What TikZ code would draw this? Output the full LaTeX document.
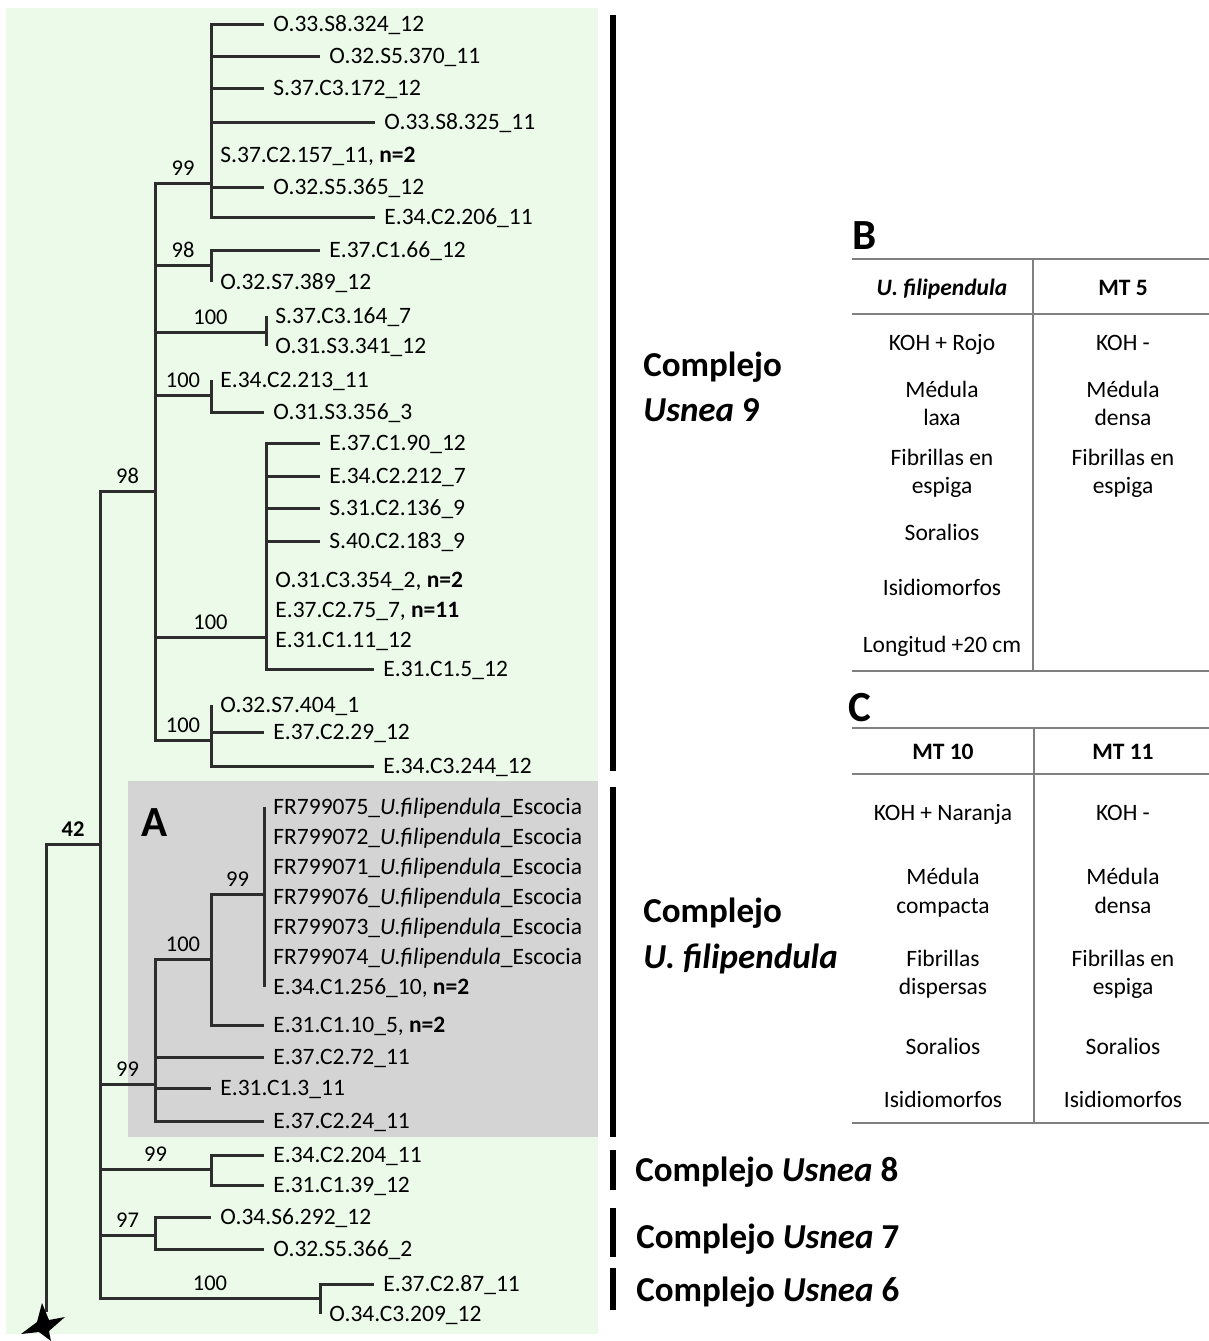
\documentclass[tikz,border=0pt]{standalone}
\usepackage{fontspec}
\setmainfont{Carlito}
\usepackage{tikz}
\usetikzlibrary{positioning}
\definecolor{mintbg}{RGB}{236,250,234}
\definecolor{boxgray}{RGB}{212,212,212}
\definecolor{branchgray}{RGB}{45,45,45}
\definecolor{rulegray}{RGB}{128,128,128}

\begin{document}
\begin{tikzpicture}[x=0.5pt,y=0.5pt,yscale=-1,xscale=1,
  branch/.style={draw=branchgray,line width=1.5pt},
  leaf/.style={anchor=west,inner xsep=4.5pt,inner ysep=0pt,font=\fontsize{11.75}{14}\selectfont,text height=7.6pt,text depth=0pt},
  boot/.style={above,inner xsep=1pt,inner ysep=3pt,font=\fontsize{11.25}{13}\selectfont},
  clade/.style={anchor=west,inner sep=0pt,font=\fontsize{17.5}{21}\selectfont\bfseries,text height=11.3pt,text depth=0pt},
  cladebar/.style={draw=black,line width=3pt},
  panel/.style={inner sep=0pt,font=\fontsize{21.5}{25}\selectfont\bfseries,text height=13.9pt,text depth=0pt},
  cell/.style={inner sep=0pt,font=\fontsize{11.75}{14}\selectfont,text height=7.6pt,text depth=0pt},
  tablerule/.style={draw=rulegray,line width=0.9pt}]
\useasboundingbox (0,0) rectangle (1209,1341);

%Shape: Rectangle [background]
\fill [mintbg] (6,8) rectangle (598,1334);
%Shape: Rectangle [A]
\fill [boxgray] (128,781) rectangle (598,1137);

% Internal nodes
\coordinate (root) at (46,1312);
\coordinate (n42) at (100,844);
\coordinate (n98) at (155,491);
\coordinate (n99a) at (211,183);
\coordinate (n98a) at (211,265);
\coordinate (n100a) at (266,332);
\coordinate (n100b) at (211,395);
\coordinate (n100c) at (266,637);
\coordinate (n100d) at (211,740);
\coordinate (n99f) at (155,1084);
\coordinate (n100f) at (211,959);
\coordinate (n99g) at (264,894);
\coordinate (n99e) at (211,1169);
\coordinate (n97) at (155,1235);
\coordinate (n100h) at (320,1298);

% Text Node
\node [leaf] (t01) at (264,24) {O.33.S8.324\_12};
\node [leaf] (t02) at (320,56) {O.32.S5.370\_11};
\node [leaf] (t03) at (264,88) {S.37.C3.172\_12};
\node [leaf] (t04) at (375,122) {O.33.S8.325\_11};
\node [leaf] (t05) at (211,155) {S.37.C2.157\_11, \textbf{n=2}};
\node [leaf] (t06) at (264,187) {O.32.S5.365\_12};
\node [leaf] (t07) at (375,217) {E.34.C2.206\_11};
\node [leaf] (t08) at (320,250) {E.37.C1.66\_12};
\node [leaf] (t09) at (211,282) {O.32.S7.389\_12};
\node [leaf] (t10) at (266,316) {S.37.C3.164\_7};
\node [leaf] (t11) at (266,346) {O.31.S3.341\_12};
\node [leaf] (t12) at (211,380) {E.34.C2.213\_11};
\node [leaf] (t13) at (264,412) {O.31.S3.356\_3};
\node [leaf] (t14) at (320,443) {E.37.C1.90\_12};
\node [leaf] (t15) at (320,476) {E.34.C2.212\_7};
\node [leaf] (t16) at (320,508) {S.31.C2.136\_9};
\node [leaf] (t17) at (320,541) {S.40.C2.183\_9};
\node [leaf] (t18) at (266,580) {O.31.C3.354\_2, \textbf{n=2}};
\node [leaf] (t19) at (266,610) {E.37.C2.75\_7, \textbf{n=11}};
\node [leaf] (t20) at (266,640) {E.31.C1.11\_12};
\node [leaf] (t21) at (374,669) {E.31.C1.5\_12};
\node [leaf] (t22) at (211,705) {O.32.S7.404\_1};
\node [leaf] (t23) at (264,732) {E.37.C2.29\_12};
\node [leaf] (t24) at (374,766) {E.34.C3.244\_12};
\node [leaf] (t25) at (264,807) {FR799075\_\textit{U.filipendula}\_Escocia};
\node [leaf] (t26) at (264,837) {FR799072\_\textit{U.filipendula}\_Escocia};
\node [leaf] (t27) at (264,867) {FR799071\_\textit{U.filipendula}\_Escocia};
\node [leaf] (t28) at (264,897) {FR799076\_\textit{U.filipendula}\_Escocia};
\node [leaf] (t29) at (264,927) {FR799073\_\textit{U.filipendula}\_Escocia};
\node [leaf] (t30) at (264,957) {FR799074\_\textit{U.filipendula}\_Escocia};
\node [leaf] (t31) at (264,987) {E.34.C1.256\_10, \textbf{n=2}};
\node [leaf] (t32) at (264,1025) {E.31.C1.10\_5, \textbf{n=2}};
\node [leaf] (t33) at (264,1057) {E.37.C2.72\_11};
\node [leaf] (t34) at (211,1088) {E.31.C1.3\_11};
\node [leaf] (t35) at (264,1121) {E.37.C2.24\_11};
\node [leaf] (t36) at (264,1155) {E.34.C2.204\_11};
\node [leaf] (t37) at (264,1185) {E.31.C1.39\_12};
\node [leaf] (t38) at (211,1217) {O.34.S6.292\_12};
\node [leaf] (t39) at (264,1249) {O.32.S5.366\_2};
\node [leaf] (t40) at (374,1284) {E.37.C2.87\_11};
\node [leaf] (t41) at (320,1314) {O.34.C3.209\_12};

% Text Node
\node [panel] (labA) at (155,823) {A};

% Branches
\draw [branch] (root) |- node [boot,pos=0.75] (b42) {\textbf{42}} (n42);
\draw [branch] (n42) |- node [boot,pos=0.75] (b98) {98} (n98);
\draw [branch] (n42) |- node [boot,pos=0.75] (b99f) {99} (n99f);
\draw [branch] (n42) |- node [boot,pos=0.75] (b99e) {99} (n99e);
\draw [branch] (n42) |- node [boot,pos=0.75] (b97) {97} (n97);
\draw [branch] (n42) |- node [boot,pos=0.75] (b100h) {100} (n100h);
\draw [branch] (n98) |- node [boot,pos=0.75] (b99a) {99} (n99a);
\draw [branch] (n98) |- node [boot,pos=0.75] (b98a) {98} (n98a);
\draw [branch] (n98) |- node [boot,pos=0.75] (b100a) {100} (n100a);
\draw [branch] (n98) |- node [boot,pos=0.75] (b100b) {100} (n100b);
\draw [branch] (n98) |- node [boot,pos=0.75] (b100c) {100} (n100c);
\draw [branch] (n98) |- node [boot,pos=0.75] (b100d) {100} (n100d);
\draw [branch] (n99f) |- node [boot,pos=0.75] (b100f) {100} (n100f);
\draw [branch] (n100f) |- node [boot,pos=0.75] (b99g) {99} (n99g);

\draw [branch] (n99a) |- (t01.west);
\draw [branch] (n99a) |- (t02.west);
\draw [branch] (n99a) |- (t03.west);
\draw [branch] (n99a) |- (t04.west);
\draw [branch] (n99a) |- (t05.west);
\draw [branch] (n99a) |- (t06.west);
\draw [branch] (n99a) |- (t07.west);
\draw [branch] (n98a) |- (t08.west);
\draw [branch] (n98a) |- (t09.west);
\draw [branch] (n100a) |- (t10.west);
\draw [branch] (n100a) |- (t11.west);
\draw [branch] (n100b) |- (t12.west);
\draw [branch] (n100b) |- (t13.west);
\draw [branch] (n100c) |- (t14.west);
\draw [branch] (n100c) |- (t15.west);
\draw [branch] (n100c) |- (t16.west);
\draw [branch] (n100c) |- (t17.west);
\draw [branch] (n100c) |- (t18.west);
\draw [branch] (n100c) |- (t19.west);
\draw [branch] (n100c) |- (t20.west);
\draw [branch] (n100c) |- (t21.west);
\draw [branch] (n100d) |- (t22.west);
\draw [branch] (n100d) |- (t23.west);
\draw [branch] (n100d) |- (t24.west);
\draw [branch] (n99g) |- (t25.west);
\draw [branch] (n99g) |- (t26.west);
\draw [branch] (n99g) |- (t27.west);
\draw [branch] (n99g) |- (t28.west);
\draw [branch] (n99g) |- (t29.west);
\draw [branch] (n99g) |- (t30.west);
\draw [branch] (n99g) |- (t31.west);
\draw [branch] (n100f) |- (t32.west);
\draw [branch] (n99f) |- (t33.west);
\draw [branch] (n99f) |- (t34.west);
\draw [branch] (n99f) |- (t35.west);
\draw [branch] (n99e) |- (t36.west);
\draw [branch] (n99e) |- (t37.west);
\draw [branch] (n97) |- (t38.west);
\draw [branch] (n97) |- (t39.west);
\draw [branch] (n100h) |- (t40.west);
\draw [branch] (n100h) |- (t41.west);

%Shape: Star
\fill [black] (42,1303) -- (49,1320) -- (65,1317) -- (49,1331) -- (51,1341) -- (39,1332) -- (21,1334) -- (37,1322) -- cycle;

%Shape: Line [clade bars]
\draw [cladebar] (613,15) -- (613,771);
\draw [cladebar] (613,787) -- (613,1137);
\draw [cladebar] (613,1150) -- (613,1190);
\draw [cladebar] (613,1208) -- (613,1257);
\draw [cladebar] (613,1268) -- (613,1310);

% Text Node
\node [clade] (cu9a) at (643,365) {Complejo};
\node [clade] (cu9b) at (643,410) {\textit{Usnea} 9};
\node [clade] (cufa) at (643,911) {Complejo};
\node [clade] (cufb) at (643,957) {\textit{U. filipendula}};
\node [clade] (cu8) at (635,1170) {Complejo \textit{Usnea} 8};
\node [clade] (cu7) at (636,1237) {Complejo \textit{Usnea} 7};
\node [clade] (cu6) at (636,1290) {Complejo \textit{Usnea} 6};

%Shape: Table B
\node [panel] (labB) at (865,236) {B};
\draw [tablerule] (852,259) -- (1209,259);
\draw [tablerule] (852,314) -- (1209,314);
\draw [tablerule] (852,671) -- (1209,671);
\draw [tablerule] (1033,259) -- (1033,671);
\node [cell] (hb1) at (942,288) {\textbf{\textit{U. filipendula}}};
\node [cell] (hb2) at (1123,288) {\textbf{MT 5}};
\node [cell] (b11) at (942,343) {KOH + Rojo};
\node [cell] (b12) at (942,390) {Médula};
\node [cell] (b13) at (942,418) {laxa};
\node [cell] (b14) at (942,458) {Fibrillas en};
\node [cell] (b15) at (942,486) {espiga};
\node [cell] (b16) at (942,533) {Soralios};
\node [cell] (b17) at (942,588) {Isidiomorfos};
\node [cell] (b18) at (942,645) {Longitud +20 cm};
\node [cell] (b21) at (1123,343) {KOH -};
\node [cell] (b22) at (1123,390) {Médula};
\node [cell] (b23) at (1123,418) {densa};
\node [cell] (b24) at (1123,458) {Fibrillas en};
\node [cell] (b25) at (1123,486) {espiga};

%Shape: Table C
\node [panel] (labC) at (860,708) {C};
\draw [tablerule] (852,728) -- (1209,728);
\draw [tablerule] (852,774) -- (1209,774);
\draw [tablerule] (852,1123) -- (1209,1123);
\draw [tablerule] (1034,728) -- (1034,1123);
\node [cell] (hc1) at (943,752) {\textbf{MT 10}};
\node [cell] (hc2) at (1123,752) {\textbf{MT 11}};
\node [cell] (c11) at (943,813) {KOH + Naranja};
\node [cell] (c12) at (943,877) {Médula};
\node [cell] (c13) at (943,906) {compacta};
\node [cell] (c14) at (943,959) {Fibrillas};
\node [cell] (c15) at (943,987) {dispersas};
\node [cell] (c16) at (943,1047) {Soralios};
\node [cell] (c17) at (943,1100) {Isidiomorfos};
\node [cell] (c21) at (1123,813) {KOH -};
\node [cell] (c22) at (1123,877) {Médula};
\node [cell] (c23) at (1123,906) {densa};
\node [cell] (c24) at (1123,959) {Fibrillas en};
\node [cell] (c25) at (1123,987) {espiga};
\node [cell] (c26) at (1123,1047) {Soralios};
\node [cell] (c27) at (1123,1100) {Isidiomorfos};

\end{tikzpicture}
\end{document}
